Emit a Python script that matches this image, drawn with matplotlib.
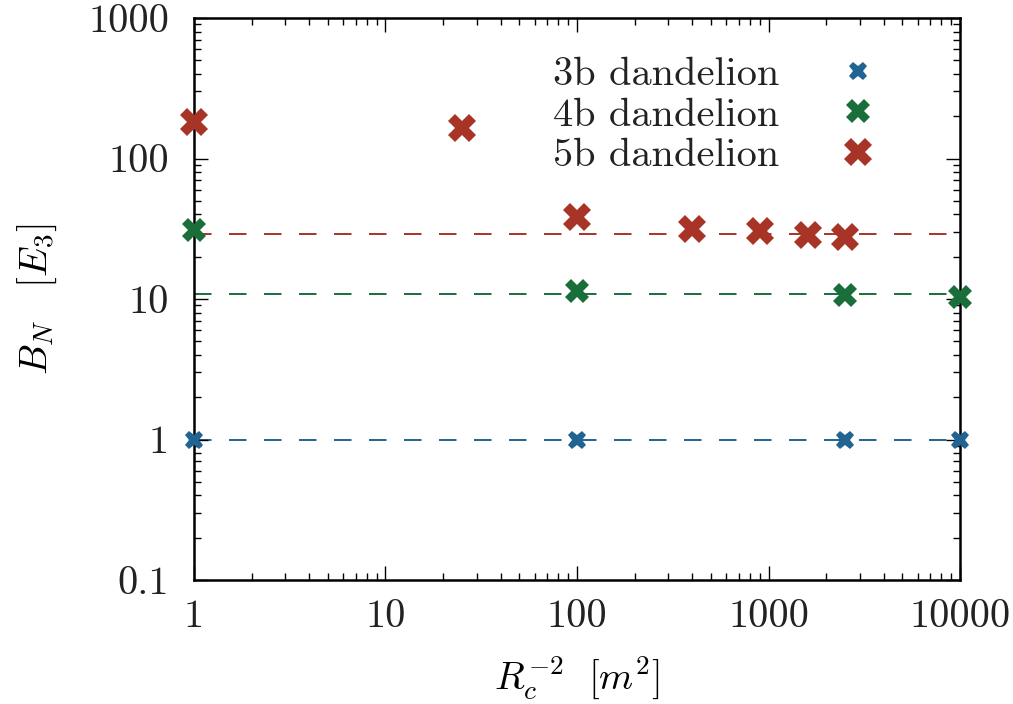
import matplotlib
matplotlib.use("Agg")
import matplotlib.pyplot as plt

# data
x_3b = [1, 100, 2500, 10000]
y_3b = [1.0, 1.0, 1.0, 1.0]
x_4b = [1, 100, 2500, 10000]
y_4b = [31.2, 11.4, 10.7, 10.4]
x_5b = [1, 25, 100, 400, 900, 1600, 2500]
y_5b = [181, 165, 38.2, 31.6, 30.7, 28.5, 27.5]
limit_3b = 1.0
limit_4b = 10.8
limit_5b = 29.1

blue = "#216391"
green = "#196e3a"
red = "#a83327"


def main():
    plt.rcParams["font.family"] = "cmr10"
    plt.rcParams["mathtext.fontset"] = "cm"
    plt.rcParams["axes.formatter.use_mathtext"] = True
    plt.rcParams["text.color"] = "#222222"
    plt.rcParams["xtick.labelcolor"] = "#222222"
    plt.rcParams["ytick.labelcolor"] = "#222222"

    fig = plt.figure(figsize=(10.13, 7.04), dpi=100)
    ax = fig.add_axes([0.1915, 0.1761, 0.7562, 0.7983])

    ax.axhline(limit_3b, color=blue, ls=(0, (9, 9)), lw=1.4, zorder=1)
    ax.axhline(limit_4b, color=green, ls=(0, (9, 9)), lw=1.4, zorder=1)
    ax.axhline(limit_5b, color=red, ls=(0, (9, 9)), lw=1.4, zorder=1)

    ax.plot(x_3b, y_3b, ls="none", marker="X", ms=13, color=blue, mew=0,
            label="3b dandelion", clip_on=False, zorder=3)
    ax.plot(x_4b, y_4b, ls="none", marker="X", ms=17, color=green, mew=0,
            label="4b dandelion", clip_on=False, zorder=3)
    ax.plot(x_5b, y_5b, ls="none", marker="X", ms=20, color=red, mew=0,
            label="5b dandelion", clip_on=False, zorder=3)

    ax.set_xscale("log")
    ax.set_yscale("log")
    ax.set_xlim(1, 10000)
    ax.set_ylim(0.1, 1000)
    ax.set_xticks([1, 10, 100, 1000, 10000])
    ax.set_xticklabels(["1", "10", "100", "1000", "10000"])
    ax.set_yticks([0.1, 1, 10, 100, 1000])
    ax.set_yticklabels(["0.1", "1", "10", "100", "1000"])
    ax.tick_params(which="both", direction="in", top=True, right=True,
                   labelsize=29, width=1.0)
    ax.tick_params(which="major", length=10)
    ax.tick_params(which="minor", length=5)
    ax.tick_params(axis="y", which="major", pad=18)
    ax.tick_params(axis="x", which="major", pad=14)
    for s in ax.spines.values():
        s.set_linewidth(1.8)

    ax.set_xlabel(r"$R_c^{-2}\ \ [m^2]$", fontsize=28, labelpad=14)
    ax.set_ylabel(r"$B_N\ \ \ [E_3]$", fontsize=28, labelpad=21)

    ax.legend(loc="upper right", markerfirst=False, frameon=False, fontsize=29,
              handletextpad=1.2, labelspacing=0.1, borderaxespad=0.57,
              handlelength=1.5, bbox_to_anchor=(0.957, 1.0))

    fig.savefig("out.png", dpi=100)


if __name__ == "__main__":
    main()
